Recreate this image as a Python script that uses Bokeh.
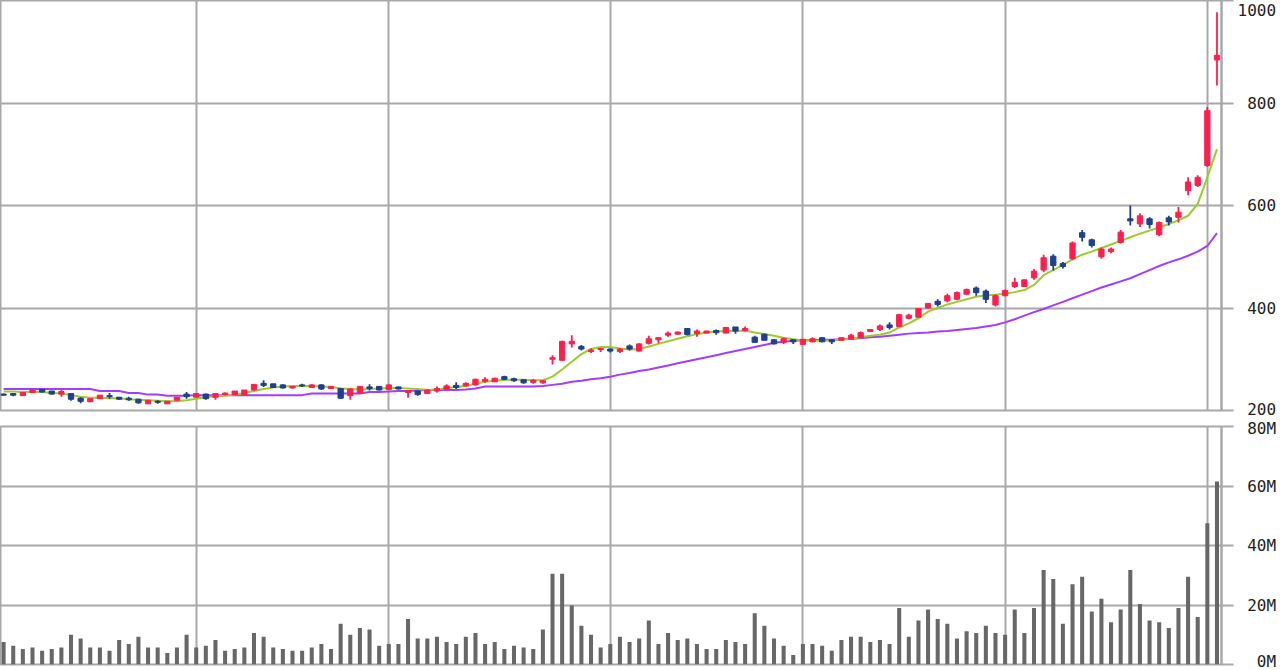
from bokeh.plotting import figure
from bokeh.models import ColumnDataSource, FixedTicker, Range1d
from bokeh.layouts import column
from bokeh.embed import file_html
from bokeh.resources import INLINE

# ---- data (daily bars) ----
opens = [232, 233, 229, 235, 241, 238, 232, 233, 224, 217, 223, 229, 226, 224, 222, 213, 218, 213, 220, 232,
         226, 232, 226, 231, 231, 231, 240, 253, 252, 250, 244, 250, 245, 250, 243, 243, 229, 234, 246, 247,
         241, 246, 235, 238, 233, 238, 242, 249, 248, 250, 257, 256, 266, 262, 260, 255, 254, 300, 298, 330,
         325, 315, 319, 320, 315, 326, 316, 331, 338, 347, 349, 360, 350, 351, 356, 351, 363, 356, 343, 349,
         338, 333, 338, 329, 334, 342, 338, 337, 339, 342, 354, 358, 367, 364, 380, 382, 400, 413, 414, 417,
         427, 439, 433, 406, 424, 442, 442, 459, 474, 501, 487, 496, 547, 533, 500, 510, 528, 574, 564, 574,
         543, 576, 577, 629, 639, 678, 884]
highs = [233, 234, 235, 241, 242, 238, 240, 233, 226, 223, 230, 234, 226, 227, 223, 220, 220, 218, 226, 236,
         234, 233, 234, 235, 238, 240, 251, 259, 252, 251, 248, 252, 251, 251, 248, 244, 243, 248, 251, 248,
         251, 247, 240, 239, 241, 247, 251, 255, 255, 262, 265, 264, 268, 264, 261, 261, 259, 308, 336, 347,
         328, 321, 321, 321, 322, 329, 331, 346, 343, 354, 354, 360, 358, 356, 358, 363, 363, 364, 346, 350,
         339, 342, 338, 339, 343, 343, 339, 343, 350, 354, 359, 368, 372, 389, 389, 400, 410, 417, 428, 432,
         438, 442, 436, 427, 436, 459, 455, 476, 504, 505, 490, 530, 552, 535, 518, 518, 552, 600, 585, 577,
         569, 580, 597, 655, 659, 792, 977]
lows = [229, 228, 229, 235, 235, 231, 227, 219, 214, 217, 223, 223, 221, 219, 213, 213, 213, 213, 220, 223,
        226, 221, 221, 230, 230, 230, 239, 246, 244, 243, 243, 246, 244, 240, 242, 223, 221, 233, 239, 239,
        240, 241, 225, 229, 233, 235, 239, 242, 247, 249, 254, 256, 259, 256, 252, 252, 252, 290, 297, 323,
        317, 312, 314, 313, 312, 317, 315, 329, 331, 344, 348, 347, 344, 351, 348, 351, 350, 354, 333, 337,
        329, 330, 330, 329, 333, 333, 330, 337, 338, 342, 354, 355, 358, 363, 378, 381, 399, 403, 411, 415,
        426, 424, 410, 403, 423, 439, 442, 455, 470, 473, 477, 494, 530, 518, 496, 507, 526, 561, 558, 555,
        540, 561, 567, 620, 636, 675, 834]
closes = [230, 230, 235, 241, 236, 232, 237, 222, 218, 223, 230, 227, 222, 221, 215, 220, 216, 218, 226, 227,
          233, 223, 233, 234, 238, 240, 251, 249, 245, 244, 247, 248, 250, 242, 247, 224, 242, 247, 243, 240,
          250, 242, 239, 231, 240, 243, 248, 245, 253, 261, 261, 263, 261, 258, 254, 259, 258, 303, 335, 335,
          320, 318, 321, 316, 320, 320, 330, 340, 342, 351, 353, 348, 355, 355, 352, 362, 355, 360, 333, 337,
          330, 340, 334, 339, 340, 334, 334, 342, 347, 352, 358, 365, 362, 387, 386, 399, 409, 407, 424, 430,
          436, 430, 417, 424, 434, 450, 455, 472, 498, 483, 481, 527, 538, 522, 515, 515, 548, 570, 580, 563,
          567, 568, 587, 646, 655, 785, 893]
ma_short = [237, 237, 236, 236, 236, 234, 233, 230, 227, 225, 225, 224, 224, 222, 221, 220, 219, 218, 218, 220,
            223, 226, 228, 229, 231, 234, 238, 242, 245, 247, 248, 248, 248, 247, 246, 243, 242, 241, 242, 243,
            244, 244, 243, 242, 240, 241, 244, 246, 248, 252, 256, 258, 260, 260, 260, 259, 259, 266, 280, 295,
            310, 320, 324, 324, 321, 319, 320, 325, 330, 335, 340, 345, 349, 352, 354, 355, 355, 356, 352, 349,
            346, 342, 339, 337, 336, 336, 337, 338, 340, 343, 346, 348, 352, 362, 370, 380, 393, 400, 407, 412,
            417, 422, 425, 426, 428, 431, 435, 445, 464, 474, 484, 495, 504, 510, 517, 524, 531, 538, 545, 551,
            557, 564, 571, 580, 603, 655, 710]
ma_long = [242, 242, 242, 242, 242, 242, 242, 242, 242, 242, 238, 238, 238, 234, 234, 231, 231, 229, 229, 229,
           230, 230, 230, 230, 230, 230, 230, 230, 230, 230, 230, 230, 233, 233, 233, 233, 233, 233, 236, 236,
           237, 238, 238, 239, 240, 240, 240, 240, 241, 243, 247, 247, 247, 247, 247, 247, 248, 250, 252, 256,
           258, 261, 263, 266, 270, 273, 277, 280, 284, 288, 292, 296, 300, 304, 308, 312, 316, 320, 324, 328,
           332, 334, 336, 337, 337, 338, 338, 339, 340, 341, 343, 344, 346, 348, 350, 351, 352, 354, 355, 357,
           359, 361, 364, 367, 372, 378, 385, 392, 398, 405, 412, 419, 426, 433, 440, 446, 452, 458, 466, 474,
           482, 489, 495, 502, 510, 521, 546]
volume_m = [7.6, 6.3, 5.2, 5.7, 4.6, 5.2, 5.7, 10.0, 8.7, 5.7, 5.7, 4.6, 8.2, 6.9, 9.3, 5.7, 5.7, 3.9, 5.7, 10.0,
            5.7, 6.3, 8.2, 4.6, 5.2, 5.7, 10.6, 9.3, 5.7, 5.2, 4.6, 4.6, 5.7, 6.9, 5.2, 13.7, 10.0, 12.3, 11.8, 6.3,
            6.9, 6.9, 15.3, 8.7, 8.7, 9.3, 7.6, 6.9, 9.3, 10.6, 6.9, 7.6, 5.2, 6.3, 5.7, 5.2, 11.8, 30.5, 30.5, 19.8,
            13.0, 10.0, 5.7, 6.9, 9.3, 7.6, 8.7, 14.8, 6.9, 10.6, 8.2, 8.7, 6.9, 5.2, 5.2, 8.2, 7.6, 6.9, 17.2, 13.0,
            8.7, 6.3, 3.2, 6.9, 6.9, 6.3, 4.6, 8.2, 9.3, 9.3, 7.6, 8.2, 6.9, 19.0, 9.3, 14.8, 18.5, 15.3, 13.7, 8.7,
            11.2, 10.6, 13.0, 10.6, 10.0, 18.5, 10.6, 19.0, 31.8, 28.7, 13.7, 27.0, 29.5, 17.8, 22.1, 14.2, 18.5, 31.8, 20.3, 14.8,
            14.2, 12.3, 19.0, 29.5, 16.0, 47.5, 61.5]
month_starts = [20, 40, 63, 83, 104, 125]
price_ticks = [200, 400, 600, 800, 1000]
price_labels = ["\u00a0200", "\u00a0400", "\u00a0600", "\u00a0800", "\n1000"]
vol_ticks = [0, 20, 40, 60, 80]
vol_labels = ["\u00a0\u00a00M", "\u00a020M", "\u00a040M", "\u00a060M", "\u00a080M"]

# ---- styles ----
UP = "#ff1f4e"
DOWN = "#1f3f8f"
GRID = "#a8a8a8"
FONT = "DejaVu Sans Mono"
N = len(closes)
idx = list(range(N))
x_rng = (-0.322, 126.47)

colors = [UP if c >= o else DOWN for o, c in zip(opens, closes)]
src = ColumnDataSource(dict(
    x=idx, o=opens, h=highs, l=lows, c=closes,
    top=[max(o, c) for o, c in zip(opens, closes)],
    bot=[min(o, c) for o, c in zip(opens, closes)],
    col=colors, ma_s=ma_short, ma_l=ma_long, vol=volume_m,
))


def style(p, ticks, labels, line_height=1.2):
    p.outline_line_color = GRID
    p.outline_line_width = 2
    p.background_fill_color = "white"
    p.border_fill_color = "white"
    ax = p.yaxis[0]
    ax.ticker = FixedTicker(ticks=ticks)
    ax.major_label_overrides = {t: s for t, s in zip(ticks, labels)}
    ax.axis_line_color = GRID
    ax.axis_line_width = 2
    ax.major_tick_out = 12
    ax.major_tick_in = 0
    ax.major_tick_line_color = GRID
    ax.major_tick_line_width = 2
    ax.minor_tick_line_color = None
    ax.major_label_standoff = 4
    ax.major_label_text_font = FONT
    ax.major_label_text_font_size = "16px"
    ax.major_label_text_color = "#222222"
    ax.major_label_text_line_height = line_height
    p.ygrid[0].ticker = FixedTicker(ticks=ticks)
    p.ygrid[0].grid_line_color = GRID
    p.ygrid[0].grid_line_width = 2
    p.xgrid[0].ticker = FixedTicker(ticks=month_starts)
    p.xgrid[0].grid_line_color = GRID
    p.xgrid[0].grid_line_width = 2


top = figure(width=1280, height=418, output_backend="svg", toolbar_location=None,
             x_range=Range1d(*x_rng), y_range=Range1d(200, 1000),
             x_axis_location=None, y_axis_location="right",
             min_border_left=0, min_border_right=59, min_border_top=0, min_border_bottom=8)
style(top, price_ticks, price_labels, line_height=0.01)
top.line("x", "ma_l", source=src, line_color="#a23cff", line_width=2)
top.line("x", "ma_s", source=src, line_color="#9ccc2c", line_width=2)
top.segment("x", "l", "x", "h", source=src, line_color="col", line_width=1.8)
top.vbar(x="x", top="top", bottom="bot", width=0.55, source=src,
         fill_color="col", line_color="col", line_width=1)

bottom = figure(width=1280, height=252, output_backend="svg", toolbar_location=None,
                x_range=top.x_range, y_range=Range1d(0, 80),
                x_axis_location=None, y_axis_location="right",
                min_border_left=0, min_border_right=59, min_border_top=8, min_border_bottom=6)
style(bottom, vol_ticks, vol_labels)
bottom.vbar(x="x", top="vol", bottom=0, width=0.42, source=src,
            fill_color="#676767", line_color=None)

layout = column(top, bottom, spacing=0)
open("out.html", "w").write(file_html(layout, INLINE))
